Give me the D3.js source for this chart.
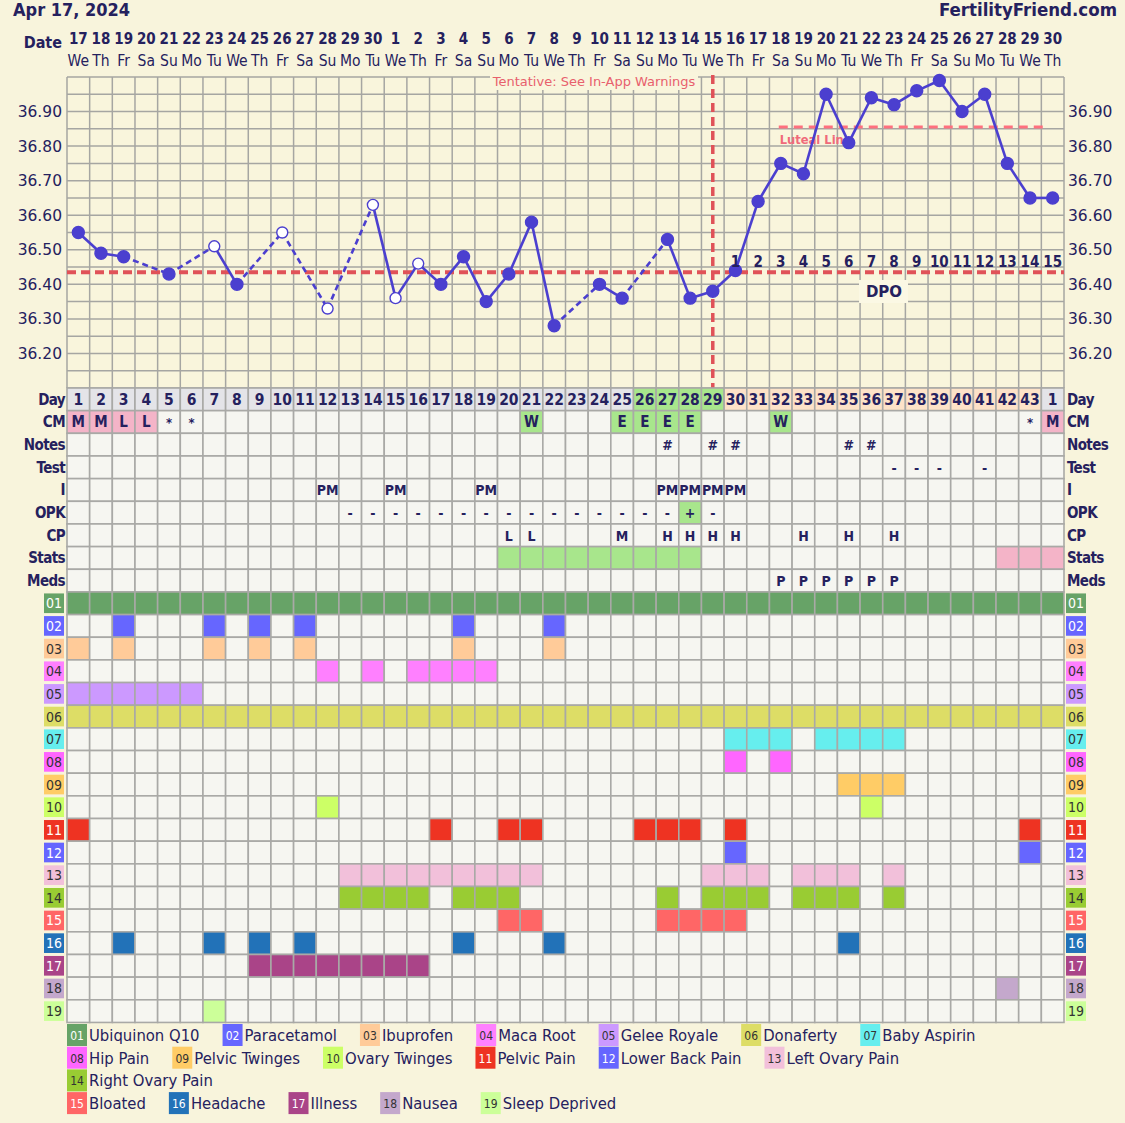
<!DOCTYPE html>
<html><head><meta charset="utf-8">
<script src="https://cdn.jsdelivr.net/npm/d3@7/dist/d3.min.js"></script>
<style>
html,body{margin:0;padding:0;background:#f8f4dc;}
svg{display:block;}
</style></head><body>
<svg id="c" width="1125" height="1123"></svg>
<script>
// ---------------- DATA ----------------
const chartTitle = "Apr 17, 2024";
const siteName = "FertilityFriend.com";
const dates = [17,18,19,20,21,22,23,24,25,26,27,28,29,30,1,2,3,4,5,6,7,8,9,10,11,12,13,14,15,16,17,18,19,20,21,22,23,24,25,26,27,28,29,30];
const weekdays = ["We","Th","Fr","Sa","Su","Mo","Tu","We","Th","Fr","Sa","Su","Mo","Tu","We","Th","Fr","Sa","Su","Mo","Tu","We","Th","Fr","Sa","Su","Mo","Tu","We","Th","Fr","Sa","Su","Mo","Tu","We","Th","Fr","Sa","Su","Mo","Tu","We","Th"];
const cycleDays = [1,2,3,4,5,6,7,8,9,10,11,12,13,14,15,16,17,18,19,20,21,22,23,24,25,26,27,28,29,30,31,32,33,34,35,36,37,38,39,40,41,42,43,1];
const temps = [36.55,36.49,36.48,null,36.43,null,36.51,36.40,null,36.55,null,36.33,null,36.63,36.36,36.46,36.40,36.48,36.35,36.43,36.58,36.28,null,36.40,36.36,null,36.53,36.36,36.38,36.44,36.64,36.75,36.72,36.95,36.81,36.94,36.92,36.96,36.99,36.90,36.95,36.75,36.65,36.65];
const openPointCols = [7,10,12,14,15,16];
const tempTicks = [36.20,36.30,36.40,36.50,36.60,36.70,36.80,36.90];
const coverline = 36.435;
const lutealLine = 36.855;
const lutealFrom = 32, lutealTo = 44;
const ovulationCol = 29;
const dpoLabels = [1,2,3,4,5,6,7,8,9,10,11,12,13,14,15];
const dpoStartCol = 30;
const fertileCols = [26,27,28,29];
const lutealCols = [30,31,32,33,34,35,36,37,38,39,40,41,42,43];
const rowLabels = ["Day","CM","Notes","Test","I","OPK","CP","Stats","Meds"];
const cmMarks = [[1,"M"],[2,"M"],[3,"L"],[4,"L"],[5,"*"],[6,"*"],[21,"W"],[25,"E"],[26,"E"],[27,"E"],[28,"E"],[32,"W"],[43,"*"],[44,"M"]];
const notesCols = [27,29,30,35,36];
const testCols = [37,38,39,41];
const intercourseCols = [12,15,19,27,28,29,30];
const opkMarks = [[13,"-"],[14,"-"],[15,"-"],[16,"-"],[17,"-"],[18,"-"],[19,"-"],[20,"-"],[21,"-"],[22,"-"],[23,"-"],[24,"-"],[25,"-"],[26,"-"],[27,"-"],[28,"+"],[29,"-"]];
const cpMarks = [[20,"L"],[21,"L"],[25,"M"],[27,"H"],[28,"H"],[29,"H"],[30,"H"],[33,"H"],[35,"H"],[37,"H"]];
const statsGreenCols = [20,21,22,23,24,25,26,27,28];
const statsPinkCols = [42,43,44];
const medsCols = [32,33,34,35,36,37];
const itemNames = ["Ubiquinon Q10","Paracetamol","Ibuprofen","Maca Root","Gelee Royale","Donaferty","Baby Aspirin","Hip Pain","Pelvic Twinges","Ovary Twinges","Pelvic Pain","Lower Back Pain","Left Ovary Pain","Right Ovary Pain","Bloated","Headache","Illness","Nausea","Sleep Deprived"];
const itemColors = ["#67a367","#6666ff","#ffcb99","#ff80ff","#cc99ff","#dddd66","#66eeee","#ff66ff","#ffcc66","#ccff66","#ee3322","#6666ff","#f2c0da","#99cc33","#ff6666","#2272b8","#aa4488","#c4a8cc","#ccff99"];
const itemLightText = [true,true,false,false,false,false,false,false,false,false,true,true,false,false,true,true,true,false,false];
const itemCols = [
  d3.range(1,45),
  [3,7,9,11,18,22],
  [1,3,7,9,11,18,22],
  [12,14,16,17,18,19],
  [1,2,3,4,5,6],
  d3.range(1,45),
  [30,31,32,34,35,36,37],
  [30,32],
  [35,36,37],
  [12,36],
  [1,17,20,21,26,27,28,30,43],
  [30,43],
  [13,14,15,16,17,18,19,20,21,29,30,31,33,34,35,37],
  [13,14,15,16,18,19,20,27,29,30,31,33,34,35,37],
  [20,21,27,28,29,30],
  [3,7,9,11,18,22,35],
  [9,10,11,12,13,14,15,16],
  [42],
  [7]
];
const legendGroups = [[0,1,2,3,4,5,6],[7,8,9,10,11,12,13],[14,15,16,17,18]];

// ---------------- DRAW ----------------
const NAVY = "#25215e";
const CF = "'DejaVu Sans Condensed','DejaVu Sans',sans-serif";
const SF = "'DejaVu Sans',sans-serif";
const svg = d3.select("#c");
const N = dates.length;
const x = d3.scaleLinear().domain([0, N]).range([67, 1064]);
const cw = x(1) - x(0);
const cx = c => x(c - 0.5); // c is 1-based column
const y = d3.scaleLinear().domain([36.10, 37.00]).range([388, 77]);
const rowY = d3.scaleLinear().domain([0, 28]).range([388, 388 + 28 * cw]);

svg.append("rect").attr("width",1125).attr("height",1123).attr("fill","#f8f4dc");
svg.append("rect").attr("x",x(0)).attr("y",y(37)).attr("width",x(N)-x(0)).attr("height",y(36.1)-y(37)).attr("fill","#f9f5dc");

// grid
const g = svg.append("g").attr("stroke","#a6a6a2").attr("stroke-width",1.5);
d3.range(0, N+1).forEach(i => g.append("line").attr("x1",x(i)).attr("x2",x(i)).attr("y1",y(37)).attr("y2",y(36.1)));
d3.range(0, 19).forEach(k => { const t = 36.10 + k*0.05; g.append("line").attr("x1",x(0)).attr("x2",x(N)).attr("y1",y(t)).attr("y2",y(t)); });

// tentative
svg.append("rect").attr("x",490).attr("y",72).attr("width",208).attr("height",18).attr("fill","#f9f5dc");
svg.append("text").attr("x",594).attr("y",86).attr("text-anchor","middle").attr("font-family",SF).attr("font-size",13).attr("fill","#e8606c").text("Tentative: See In-App Warnings");

// coverline
svg.append("line").attr("x1",x(0)).attr("x2",x(N)).attr("y1",y(coverline)).attr("y2",y(coverline)).attr("stroke","#e05258").attr("stroke-width",4).attr("stroke-dasharray","9,5");
// ovulation vertical
svg.append("line").attr("x1",cx(ovulationCol)).attr("x2",cx(ovulationCol)).attr("y1",y(37)-2).attr("y2",y(36.1)).attr("stroke","#e05258").attr("stroke-width",3.5).attr("stroke-dasharray","9,5");
// luteal line
svg.append("line").attr("x1",cx(lutealFrom)-2).attr("x2",cx(lutealTo)-8).attr("y1",y(lutealLine)).attr("y2",y(lutealLine)).attr("stroke","#ff707e").attr("stroke-width",3).attr("stroke-dasharray","9,6");
svg.append("text").attr("x",cx(lutealFrom)-1).attr("y",y(lutealLine)+17).attr("font-family",CF).attr("font-weight","bold").attr("font-size",12.8).attr("fill","#f06a7a").text("Luteal Line");

// temperature line
const pts = temps.map((t,i)=>({c:i+1,t})).filter(d=>d.t!==null);
for (let k=1;k<pts.length;k++){
  const a=pts[k-1], b=pts[k];
  svg.append("line").attr("x1",cx(a.c)).attr("y1",y(a.t)).attr("x2",cx(b.c)).attr("y2",y(b.t))
    .attr("stroke","#4b3fcf").attr("stroke-width",2.6).attr("stroke-dasharray", b.c-a.c>1 ? "6,4" : null);
}
svg.selectAll("circle.pt").data(pts).enter().append("circle")
  .attr("cx",d=>cx(d.c)).attr("cy",d=>y(d.t)).attr("r",d=>openPointCols.includes(d.c)?5.5:6)
  .attr("fill",d=>openPointCols.includes(d.c)?"#ffffff":"#4b3fcf")
  .attr("stroke","#4b3fcf").attr("stroke-width",1.4);

// DPO numbers
dpoLabels.forEach((v,i)=>{
  svg.append("text").attr("x",cx(dpoStartCol+i)).attr("y",267).attr("text-anchor","middle").attr("font-family",CF).attr("font-weight","bold").attr("font-size",15).attr("fill",NAVY).text(v);
});
svg.append("rect").attr("x",859).attr("y",280).attr("width",49).attr("height",23).attr("fill","#fbf8e4");
svg.append("text").attr("x",884).attr("y",297).attr("text-anchor","middle").attr("font-family",SF).attr("font-weight","bold").attr("font-size",15).attr("fill",NAVY).text("DPO");

// temp axis labels
tempTicks.forEach(t=>{
  svg.append("text").attr("x",62).attr("y",y(t)+5.5).attr("text-anchor","end").attr("font-family",SF).attr("font-size",15.5).attr("fill",NAVY).text(t.toFixed(2));
  svg.append("text").attr("x",1068).attr("y",y(t)+5.5).attr("font-family",SF).attr("font-size",15.5).attr("fill",NAVY).text(t.toFixed(2));
});

// header
svg.append("text").attr("x",13).attr("y",16).attr("font-family",CF).attr("font-weight","bold").attr("font-size",18).attr("fill",NAVY).text(chartTitle);
svg.append("text").attr("x",1117).attr("y",16).attr("text-anchor","end").attr("font-family",CF).attr("font-weight","bold").attr("font-size",18.5).attr("fill",NAVY).text(siteName);
svg.append("text").attr("x",62).attr("y",48).attr("text-anchor","end").attr("font-family",CF).attr("font-weight","bold").attr("font-size",16).attr("fill",NAVY).text("Date");
dates.forEach((d,i)=>{
  svg.append("text").attr("x",cx(i+1)).attr("y",44).attr("text-anchor","middle").attr("font-family",CF).attr("font-weight","bold").attr("font-size",15).attr("fill",NAVY).text(d);
  svg.append("text").attr("x",cx(i+1)).attr("y",66).attr("text-anchor","middle").attr("font-family",CF).attr("font-size",15.5).attr("fill",NAVY).text(weekdays[i]);
});

// ---------- table ----------
const cellFill = Array.from({length:28},()=>Array(N).fill("#f6f6f1"));
for (let c=1;c<=N;c++) cellFill[0][c-1] = "#e4e4e8";
fertileCols.forEach(c=>cellFill[0][c-1]="#a8e68c");
lutealCols.forEach(c=>cellFill[0][c-1]="#fde2c8");
cmMarks.forEach(([c,s])=>{ if (s==="M"||s==="L") cellFill[1][c-1]="#f4b4c8"; else if (s==="W"||s==="E") cellFill[1][c-1]="#a8e68c"; });
opkMarks.forEach(([c,s])=>{ if (s==="+") cellFill[5][c-1]="#a8e68c"; });
statsGreenCols.forEach(c=>cellFill[7][c-1]="#a8e68c");
statsPinkCols.forEach(c=>cellFill[7][c-1]="#f4b4c8");
itemCols.forEach((cols,k)=>cols.forEach(c=>cellFill[9+k][c-1]=itemColors[k]));

const tg = svg.append("g");
for (let r=0;r<28;r++) for (let c=0;c<N;c++){
  tg.append("rect").attr("x",x(c)).attr("y",rowY(r)).attr("width",cw).attr("height",cw)
    .attr("fill",cellFill[r][c]).attr("stroke","#a9a9a6").attr("stroke-width",1.6);
}

function cellText(r,c,s,size){
  svg.append("text").attr("x",cx(c)).attr("y",rowY(r+0.5)+5.5).attr("text-anchor","middle")
    .attr("font-family",CF).attr("font-weight","bold").attr("font-size",size||15).attr("fill",NAVY).text(s);
}
cycleDays.forEach((d,i)=>cellText(0,i+1,d,15.5));
cmMarks.forEach(([c,s])=>cellText(1,c,s, s==="*"?13:15));
notesCols.forEach(c=>cellText(2,c,"#",14));
testCols.forEach(c=>cellText(3,c,"-",14));
intercourseCols.forEach(c=>cellText(4,c,"PM",14));
opkMarks.forEach(([c,s])=>cellText(5,c,s,14));
cpMarks.forEach(([c,s])=>cellText(6,c,s,14));
medsCols.forEach(c=>cellText(8,c,"P",14));

rowLabels.forEach((lab,r)=>{
  svg.append("text").attr("x",65).attr("y",rowY(r+0.5)+5.5).attr("text-anchor","end").attr("font-family",CF).attr("font-weight","bold").attr("font-size",15).attr("letter-spacing",-0.6).attr("fill",NAVY).text(lab);
  svg.append("text").attr("x",1067).attr("y",rowY(r+0.5)+5.5).attr("font-family",CF).attr("font-weight","bold").attr("font-size",15).attr("letter-spacing",-0.6).attr("fill",NAVY).text(lab);
});
itemNames.forEach((nm,k)=>{
  const r = 9+k, lab = String(k+1).padStart(2,"0");
  [44,1066].forEach(bx=>{
    svg.append("rect").attr("x",bx).attr("y",rowY(r)+1.5).attr("width",20).attr("height",cw-3).attr("fill",itemColors[k]);
    svg.append("text").attr("x",bx+10).attr("y",rowY(r+0.5)+5).attr("text-anchor","middle").attr("font-family",CF).attr("font-size",14).attr("fill",itemLightText[k]?"#ffffff":"#333333").text(lab);
  });
});

// ---------- legend ----------
let ly = 1035;
legendGroups.forEach(grp=>{
  let lx = 67;
  grp.forEach(k=>{
    const item = svg.append("g");
    const t = item.append("text").attr("x",0).attr("y",0).attr("font-family",CF).attr("font-size",16.5).attr("fill",NAVY).text(itemNames[k]);
    const w = 22 + t.node().getComputedTextLength();
    if (lx + w > 1064) { lx = 67; ly += 22.7; }
    t.attr("x",lx+22).attr("y",ly+6);
    item.insert("rect","text").attr("x",lx).attr("y",ly-11).attr("width",20).attr("height",22).attr("fill",itemColors[k]);
    item.append("text").attr("x",lx+10).attr("y",ly+5).attr("text-anchor","middle").attr("font-family",CF).attr("font-size",12).attr("fill",itemLightText[k]?"#ffffff":"#333333").text(String(k+1).padStart(2,"0"));
    lx += w + 23;
  });
  ly += 22.7;
});
</script>
</body></html>
